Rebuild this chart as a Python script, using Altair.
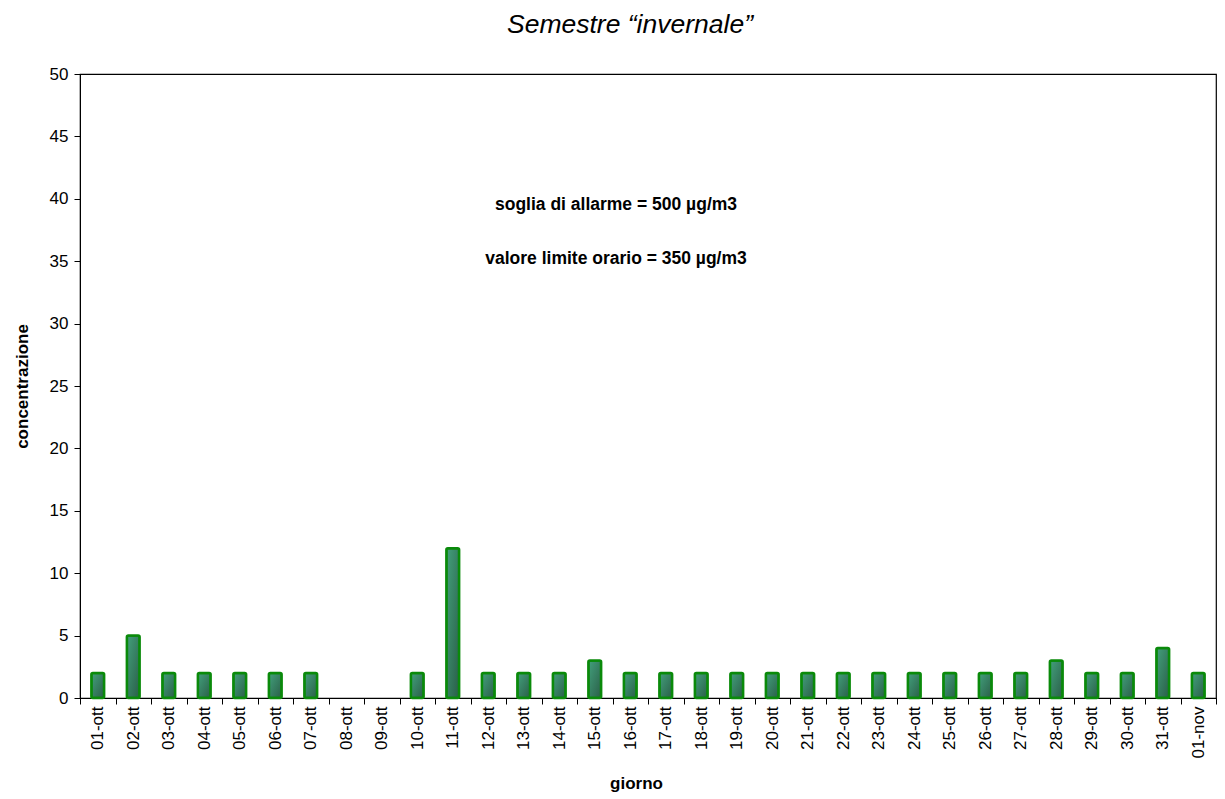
import altair as alt
import pandas as pd

giorni = ["01-ott", "02-ott", "03-ott", "04-ott", "05-ott", "06-ott", "07-ott", "08-ott",
          "09-ott", "10-ott", "11-ott", "12-ott", "13-ott", "14-ott", "15-ott", "16-ott",
          "17-ott", "18-ott", "19-ott", "20-ott", "21-ott", "22-ott", "23-ott", "24-ott",
          "25-ott", "26-ott", "27-ott", "28-ott", "29-ott", "30-ott", "31-ott", "01-nov"]
valori = [2, 5, 2, 2, 2, 2, 2, None, None, 2, 12, 2, 2, 2, 3, 2,
          2, 2, 2, 2, 2, 2, 2, 2, 2, 2, 2, 3, 2, 2, 4, 2]
y_ticks = [0, 5, 10, 15, 20, 25, 30, 35, 40, 45, 50]
note = ["soglia di allarme = 500 µg/m3", "valore limite orario = 350 µg/m3"]

df = pd.DataFrame({"giorno": giorni, "valore": valori})
FONT = "Liberation Sans"

grad = alt.Gradient(
    gradient="linear",
    stops=[alt.GradientStop(color="#43a07c", offset=0),
           alt.GradientStop(color="#2a5e48", offset=1)],
    x1=0, x2=1, y1=0, y2=1,
)

bars = alt.Chart(df).mark_bar(
    color=grad, stroke="#0a8a0a", strokeWidth=2.5, cornerRadius=1.5,
    width=alt.RelativeBandSize(0.36),
).encode(
    x=alt.X("giorno:N", sort=giorni,
            scale=alt.Scale(paddingInner=0, paddingOuter=0),
            axis=alt.Axis(title="giorno", labelAngle=-90, tickBand="extent",
                          labelFontSize=17, labelFont=FONT, labelColor="black",
                          titleFont=FONT, titleFontSize=17, titleFontWeight="bold",
                          titleColor="black", titlePadding=18, labelPadding=2,
                          tickSize=6, tickColor="black", domainColor="black",
                          titleX=556)),
    y=alt.Y("valore:Q", scale=alt.Scale(domain=[0, 50], nice=False),
            axis=alt.Axis(title="concentrazione", values=y_ticks, grid=False,
                          labelFontSize=17, labelFont=FONT, labelColor="black",
                          titleFont=FONT, titleFontSize=17, titleFontWeight="bold",
                          titleColor="black", titlePadding=18, labelPadding=6,
                          tickSize=6, tickColor="black", domainColor="black")),
)

t1 = alt.Chart(pd.DataFrame({"testo": [note[0]]})).mark_text(
    font=FONT, fontSize=17.5, fontWeight="bold", color="black"
).encode(text="testo:N", x=alt.value(536), y=alt.value(131))
t2 = alt.Chart(pd.DataFrame({"testo": [note[1]]})).mark_text(
    font=FONT, fontSize=17.5, fontWeight="bold", color="black"
).encode(text="testo:N", x=alt.value(536), y=alt.value(185))

chart = alt.layer(bars, t1, t2).properties(
    width=1136, height=624,
    title=alt.TitleParams("Semestre “invernale”", font=FONT, fontSize=26.5,
                          fontStyle="italic", fontWeight="normal", color="black",
                          anchor="middle", dx=-18, offset=27),
    padding={"left": 5, "top": 3, "right": 0, "bottom": 0},
).configure(background="white").configure_view(stroke="black", strokeWidth=1.2)

chart.save("out.html", embed_options={"renderer": "svg", "actions": False})
